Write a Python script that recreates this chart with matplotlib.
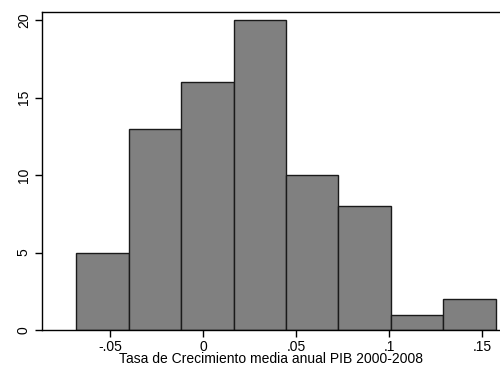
import numpy as np
import matplotlib
matplotlib.use("Agg")
import matplotlib.pyplot as plt

# histogram bins (left edges + right end) and frequencies
BIN_EDGES = [-0.0681, -0.0399, -0.0117, 0.0165, 0.0446, 0.0728, 0.1010, 0.1292, 0.1573]
COUNTS = [5, 13, 16, 20, 10, 8, 1, 2]
XTICKS = [-0.05, 0, 0.05, 0.1, 0.15]
XTICKLABELS = ["-.05", "0", ".05", ".1", ".15"]
YTICKS = [0, 5, 10, 15, 20]
XLABEL = "Tasa de Crecimiento media anual PIB 2000-2008"

plt.rcParams["font.family"] = ["Liberation Sans", "DejaVu Sans"]

fig = plt.figure(figsize=(5.0, 3.66), dpi=100)
ax = fig.add_axes([42 / 500, 1 - 330 / 366, 1 - 42 / 500, (330 - 12) / 366])

edges = np.array(BIN_EDGES)
ax.bar(edges[:-1], COUNTS, width=np.diff(edges), align="edge",
       color="#808080", edgecolor="#1a1a1a", linewidth=1.0)

ax.set_xlim(-0.0866, 0.1597)
ax.set_ylim(0, 20.52)

ax.set_xticks(XTICKS)
ax.set_xticklabels(XTICKLABELS)
ax.set_yticks(YTICKS)
ax.set_yticklabels([str(v) for v in YTICKS], rotation=90, va="center")
ax.tick_params(axis="both", labelsize=10, length=5, width=1, color="black")
ax.tick_params(axis="x", pad=2)
ax.tick_params(axis="y", pad=3)

ax.set_xlabel(XLABEL, fontsize=10, labelpad=-1)

for s in ["left", "bottom", "top"]:
    ax.spines[s].set_linewidth(1.0)
ax.spines["right"].set_visible(False)

fig.savefig("out.png", dpi=100, facecolor="white")
